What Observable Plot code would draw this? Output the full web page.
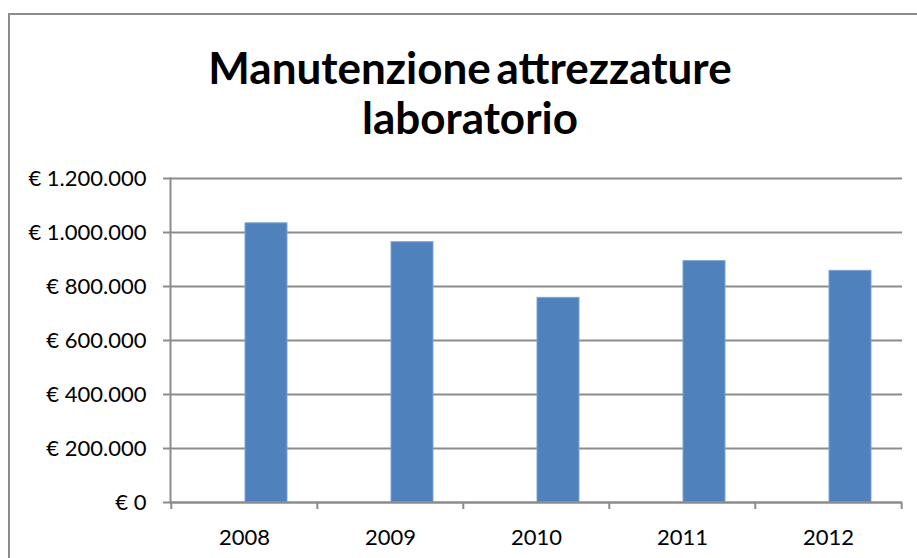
<!DOCTYPE html>
<html><head><meta charset="utf-8">
<script src="https://cdn.jsdelivr.net/npm/d3@7"></script>
<script src="https://cdn.jsdelivr.net/npm/@observablehq/plot@0.6"></script>
<style>
html,body{margin:0;padding:0;background:#fff;width:917px;height:558px;overflow:hidden;position:relative}
#frame{position:absolute;left:8px;top:13px;width:1000px;height:1000px;border-left:2px solid #8c8c8c;border-top:2px solid #8c8c8c;box-sizing:border-box}
#title{position:absolute;left:0;top:42px;width:940px;text-align:center;font-family:Lato,"Open Sans",sans-serif;font-weight:bold;font-size:44px;line-height:50px;color:#000;word-spacing:-5px}
#chart{position:absolute;left:0;top:0}
</style></head><body>
<div id="frame"></div>
<div id="chart"></div>
<div id="title">Manutenzione attrezzature<br>laboratorio</div>
<script>
const years = ["2008", "2009", "2010", "2011", "2012"];
const costs = [1034000, 964000, 758000, 894000, 858000];
const emptySeries = [0, 0, 0, 0, 0];
const yTicks = [0, 200000, 400000, 600000, 800000, 1000000, 1200000];

const fmt = d => "€ " + d3.format(",")(d).replace(/,/g, ".");
const mainBars = years.map((y, i) => ({year: y, value: costs[i]}));
const emptyBars = years.map((y, i) => ({year: y, value: emptySeries[i]}));

const W = 917, H = 558, ml = 170, mr = 15, mt = 178, mb = 56;
const half = (W - ml - mr) / years.length / 2;
const gray = "#8c8c8c";

const chart = Plot.plot({
  width: W, height: H,
  marginLeft: ml, marginRight: mr, marginTop: mt, marginBottom: mb,
  style: {background: "transparent", fontFamily: "Lato, 'Open Sans', sans-serif", fontSize: "22px", color: "#000"},
  x: {type: "band", domain: years, padding: 0},
  y: {domain: [0, 1200000]},
  marks: [
    Plot.gridY(yTicks, {stroke: gray, strokeOpacity: 1, strokeWidth: 2}),
    Plot.frame({anchor: "left", stroke: gray, strokeWidth: 2}),
    Plot.barY(emptyBars, {x: "year", y: "value", fill: "#4F81BD", stroke: "#b4cbe8", strokeWidth: 1, insetLeft: 32, insetRight: 72}),
    Plot.barY(mainBars, {x: "year", y: "value", fill: "#4F81BD", stroke: "#7ea3d4", strokeWidth: 1, insetLeft: 74, insetRight: 30}),
    Plot.ruleY([0], {stroke: gray, strokeWidth: 2}),
    Plot.axisY(yTicks, {tickSize: 7, tickPadding: 17, tickFormat: fmt, stroke: gray, strokeWidth: 2, fill: "#000", label: null}),
    Plot.axisX({tickSize: 7, dx: -half, tickFormat: () => "", stroke: gray, strokeWidth: 2, label: null}),
    Plot.axisX([years[years.length - 1]], {tickSize: 7, dx: half, tickFormat: () => "", stroke: gray, strokeWidth: 2, label: null}),
    Plot.axisX({tickSize: 0, tickPadding: 27, fill: "#000", label: null})
  ]
});
document.getElementById("chart").appendChild(chart);
</script>
</body></html>
